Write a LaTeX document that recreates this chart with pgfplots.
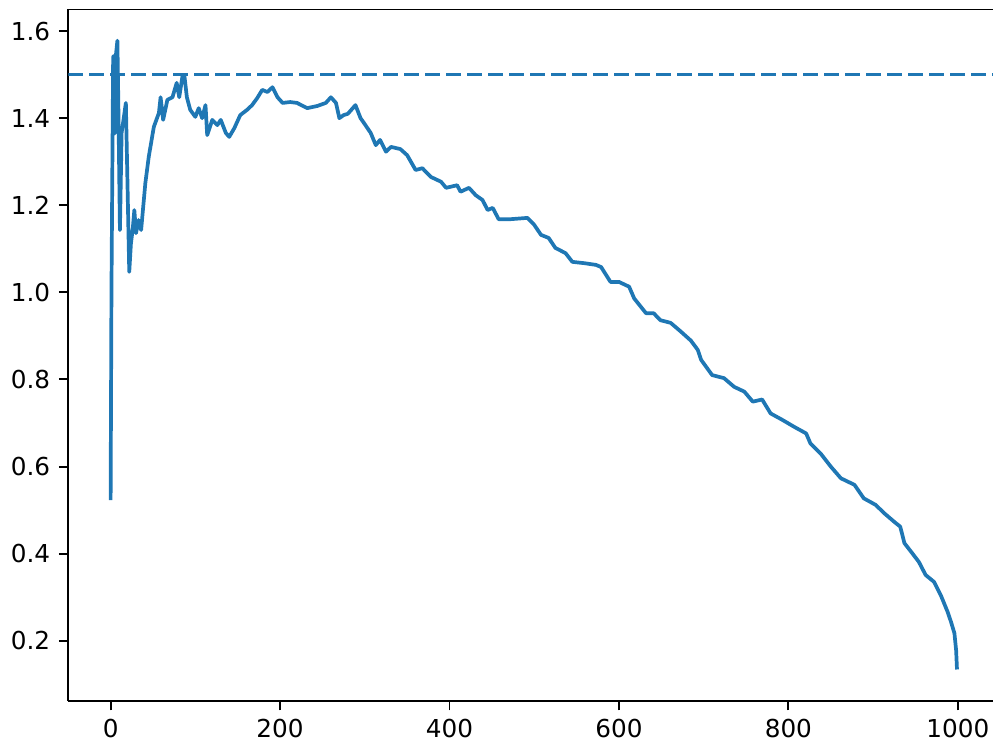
\documentclass[border=0pt]{standalone}
\usepackage{fontspec}
\setmainfont{DejaVu Sans}
\usepackage{pgfplots}
\pgfplotsset{compat=1.18}
\definecolor{mplblue}{HTML}{1F77B4}

\begin{document}
\begin{tikzpicture}
% the page: the reference image is cropped just left of the right spine
\path (0,0) rectangle (402pt,301.6pt);
\begin{pgfinterruptboundingbox}
\begin{axis}[
    at={(27.65pt,17.8pt)}, anchor=south west,
    width=376.9pt, height=280pt, scale only axis,
    xmin=-49.95, xmax=1048.95, ymin=0.0616, ymax=1.6498,
    axis lines*=left,
    axis line style={-, black, line width=0.8pt},
    xtick={0,200,400,600,800,1000},
    ytick={0.2,0.4,0.6,0.8,1.0,1.2,1.4,1.6},
    tick align=outside,
    major tick length=3.8pt,
    every tick/.style={black, line width=0.8pt},
    /pgf/number format/assume math mode=true,
    tick label style={font=\normalsize},
    xticklabel style={/pgf/number format/1000 sep={}},
    yticklabel style={/pgf/number format/fixed, /pgf/number format/fixed zerofill,
                      /pgf/number format/precision=1},
]
% top spine
\draw[black, line width=0.8pt] (rel axis cs:0,1) -- (rel axis cs:1,1);
\addplot[mplblue, line width=1.5pt, dash pattern=on 6pt off 2.5pt]
    coordinates {(-49.95,1.5) (1048.95,1.5)};
\addplot[mplblue, line width=1.5pt, line join=round] coordinates {
(0,0.523) (1,1.005) (3,1.541) (4,1.543) (5,1.365) (6,1.540) (8,1.578)
(9,1.449) (11,1.143) (13,1.366) (18,1.435) (22,1.047) (24,1.113)
(26,1.143) (28,1.189) (30,1.136) (33,1.166) (36,1.143) (41,1.251)
(45,1.311) (51,1.380) (57,1.412) (59,1.448) (62,1.396) (67,1.442)
(73,1.448) (78,1.481) (81,1.448) (85,1.499) (87,1.499) (90,1.448)
(94,1.419) (100,1.403) (104,1.423) (108,1.400) (112,1.430) (114,1.361)
(120,1.396) (126,1.384) (130,1.396) (136,1.366) (140,1.357) (146,1.377)
(153,1.407) (161,1.419) (167,1.430) (173,1.446) (179,1.465) (185,1.460)
(191,1.471) (197,1.448) (203,1.435) (212,1.437) (220,1.435) (232,1.423)
(244,1.428) (254,1.435) (260,1.448) (266,1.435) (270,1.400) (275,1.407)
(280,1.410) (289,1.430) (295,1.400) (299,1.389) (307,1.366) (313,1.338)
(318,1.350) (325,1.323) (331,1.334) (342,1.329) (350,1.315) (360,1.281)
(368,1.285) (378,1.265) (390,1.254) (396,1.240) (409,1.246) (413,1.231)
(423,1.240) (431,1.223) (439,1.212) (445,1.189) (451,1.194) (458,1.168)
(472,1.168) (492,1.171) (500,1.155) (508,1.132) (517,1.125) (525,1.102)
(537,1.090) (545,1.070) (559,1.067) (573,1.063) (579,1.058) (590,1.024)
(600,1.024) (612,1.013) (618,0.986) (632,0.952) (641,0.952) (649,0.936)
(661,0.930) (673,0.910) (685,0.889) (693,0.868) (697,0.845) (710,0.810)
(724,0.803) (736,0.783) (748,0.772) (758,0.749) (769,0.754) (779,0.722)
(793,0.707) (807,0.691) (821,0.676) (826,0.653) (838,0.630) (850,0.600)
(862,0.573) (878,0.558) (889,0.527) (903,0.512) (913,0.493) (925,0.473)
(932,0.462) (937,0.424) (945,0.404) (954,0.381) (962,0.351) (972,0.335)
(980,0.304) (988,0.266) (992,0.243) (996,0.217) (998,0.178) (999,0.134)
};
\end{axis}
\end{pgfinterruptboundingbox}
\end{tikzpicture}
\end{document}
